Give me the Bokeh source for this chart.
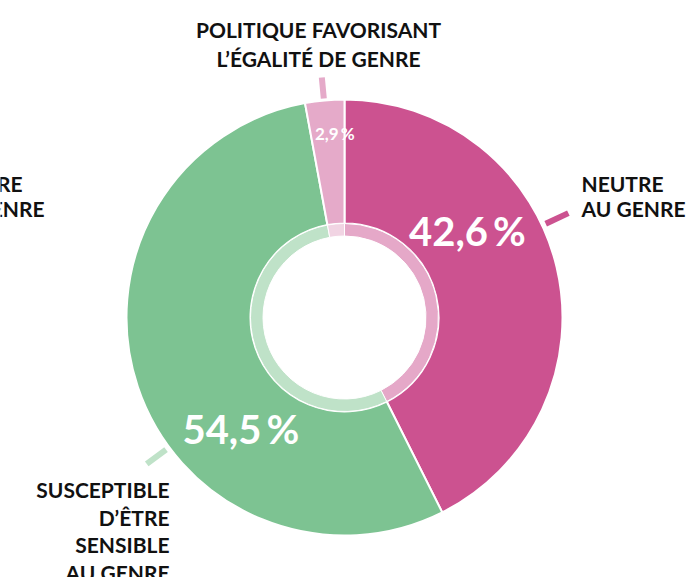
import math
from bokeh.plotting import figure
from bokeh.models import ColumnDataSource, Range1d
from bokeh.core.properties import value
from bokeh.embed import file_html
from bokeh.resources import INLINE

# ---- data ----
categories = ["NEUTRE AU GENRE", "SUSCEPTIBLE D'ÊTRE SENSIBLE AU GENRE",
              "POLITIQUE FAVORISANT L'ÉGALITÉ DE GENRE"]
values = [42.6, 54.5, 2.9]
pct_labels = ["42,6\u2009%", "54,5\u2009%", "2,9\u2009%"]

# ---- style ----
W, H = 690, 577
CX, CY = 344, H - 317
R_HOLE, R_IN, R_OUT = 81.5, 94, 218
main_colors = ["#cc5290", "#7dc392", "#e5aac9"]
ring_colors = ["#e5a8c8", "#bfe2c8", "#f1d4e3"]
tick_colors = ["#cc5290", "#bfe2c8", "#e5aac9"]
tick_deg = [65, 233.5, 354.6]      # clockwise from top
tick_r0 = [222, 222, 220]
tick_r1 = [247, 246, 241]
pct_deg = [55, 223, 357]
pct_r = [150, 152, 184]
pct_size = ["40px", "40px", "17px"]
FONT = "Lato"
LBL_SIZE = "21px"

total = sum(values)
starts, ends = [], []
acc = 0.0
for v in values:
    starts.append(math.pi / 2 - 2 * math.pi * acc / total)
    acc += v
    ends.append(math.pi / 2 - 2 * math.pi * acc / total)

src = ColumnDataSource(dict(cat=categories, val=values, start=starts, end=ends,
                            color=main_colors, ring=ring_colors))

p = figure(width=W, height=H, output_backend="svg", toolbar_location=None,
           x_range=Range1d(0, W), y_range=Range1d(0, H),
           x_axis_location=None, y_axis_location=None, min_border=0,
           background_fill_color="white", border_fill_color="white")
p.outline_line_color = None
p.grid.visible = False

p.annular_wedge(x=CX, y=CY, inner_radius=R_IN, outer_radius=R_OUT,
                start_angle="start", end_angle="end", direction="clock",
                fill_color="color", line_color="white", line_width=2, source=src)
p.annular_wedge(x=CX, y=CY, inner_radius=R_HOLE, outer_radius=R_IN,
                start_angle="start", end_angle="end", direction="clock",
                fill_color="ring", line_color="white", line_width=1, source=src)


def pol(deg, r):
    a = math.radians(deg)
    return CX + r * math.sin(a), CY + r * math.cos(a)


# ticks
x0s, y0s, x1s, y1s = [], [], [], []
for d, r0, r1 in zip(tick_deg, tick_r0, tick_r1):
    a0 = pol(d, r0)
    a1 = pol(d, r1)
    x0s.append(a0[0]); y0s.append(a0[1]); x1s.append(a1[0]); y1s.append(a1[1])
p.segment(x0=x0s, y0=y0s, x1=x1s, y1=y1s, line_color=tick_colors,
          line_width=6, line_cap="butt")

# percentage labels
for lab, d, r, s in zip(pct_labels, pct_deg, pct_r, pct_size):
    x, y = pol(d, r)
    p.text(x=[x], y=[y], text=[lab], text_font=value(FONT), text_font_style="bold",
           text_font_size=s, text_color="white", text_align="center",
           text_baseline="middle")


def label(lines, x, y_top_px, align, step):
    for i, ln in enumerate(lines):
        p.text(x=[x], y=[H - (y_top_px + i * step)], text=[ln], text_font=value(FONT),
               text_font_style="bold", text_font_size=LBL_SIZE, text_color="#111111",
               text_align=align, text_baseline="middle")


label(["POLITIQUE FAVORISANT", "L\u2019ÉGALITÉ DE GENRE"], 318, 29, "center", 28.5)
label(["NEUTRE", "AU GENRE"], 581, 182.5, "left", 25.5)
label(["NEUTRE", "AU GENRE"], -60, 182.5, "left", 25.5)
label(["SUSCEPTIBLE", "D\u2019ÊTRE", "SENSIBLE", "AU GENRE"], 169, 489, "right", 27.7)

open("out.html", "w").write(file_html(p, INLINE))
